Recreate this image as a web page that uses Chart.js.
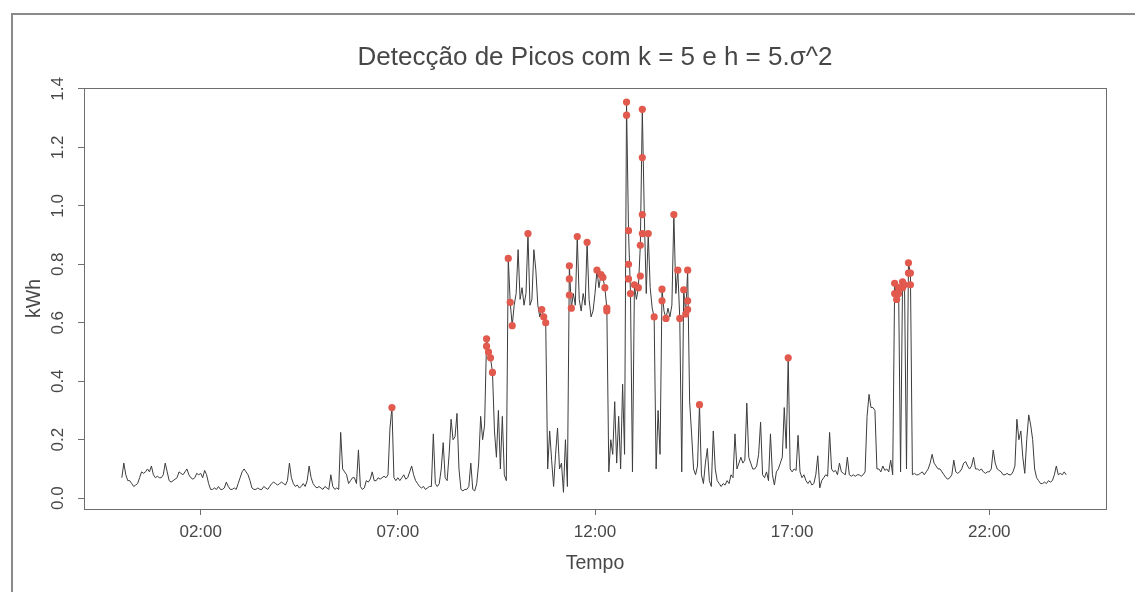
<!DOCTYPE html>
<html>
<head>
<meta charset="utf-8">
<script src="https://cdn.jsdelivr.net/npm/chart.js@4/dist/chart.umd.min.js"></script>
<style>
  html, body { margin: 0; padding: 0; background: #fff; }
  #wrap { position: relative; width: 1135px; height: 592px; overflow: hidden; }
  #frame { position: absolute; left: 11px; top: 13px; width: 1140px; height: 600px;
           border-left: 2px solid #8a8a8a; border-top: 2px solid #8a8a8a; }
  canvas { position: absolute; left: 0; top: 0; }
</style>
</head>
<body>
<div id="wrap">
  <div id="frame"></div>
  <canvas id="chart" width="1135" height="592"></canvas>
</div>
<script>
// one reading every 3 minutes, 00:00 -> 23:57
const stepMinutes = 3;
const kwh = [
  // 00h
  0.07, 0.12, 0.08, 0.06, 0.06, 0.05, 0.04, 0.045, 0.05, 0.07, 0.09, 0.085, 0.09, 0.10, 0.09, 0.11, 0.08, 0.07, 0.075, 0.07,
  // 01h
  0.07, 0.08, 0.12, 0.09, 0.06, 0.055, 0.06, 0.065, 0.07, 0.09, 0.085, 0.08, 0.09, 0.10, 0.08, 0.07, 0.065, 0.07, 0.085, 0.08,
  // 02h
  0.085, 0.07, 0.095, 0.08, 0.05, 0.03, 0.03, 0.035, 0.03, 0.04, 0.03, 0.03, 0.035, 0.055, 0.04, 0.03, 0.03, 0.035, 0.03, 0.05,
  // 03h
  0.07, 0.09, 0.10, 0.09, 0.08, 0.06, 0.035, 0.03, 0.03, 0.035, 0.03, 0.03, 0.04, 0.035, 0.03, 0.04, 0.05, 0.055, 0.05, 0.045,
  // 04h
  0.05, 0.055, 0.05, 0.045, 0.06, 0.12, 0.07, 0.05, 0.04, 0.045, 0.035, 0.04, 0.05, 0.04, 0.06, 0.11, 0.07, 0.05, 0.04, 0.035,
  // 05h
  0.04, 0.035, 0.03, 0.04, 0.035, 0.03, 0.08, 0.04, 0.03, 0.035, 0.03, 0.225, 0.10, 0.09, 0.08, 0.05, 0.06, 0.07, 0.07, 0.05,
  // 06h
  0.165, 0.04, 0.03, 0.035, 0.06, 0.055, 0.065, 0.09, 0.06, 0.06, 0.07, 0.065, 0.07, 0.075, 0.07, 0.08, 0.24, 0.31, 0.07, 0.06,
  // 07h
  0.07, 0.06, 0.07, 0.08, 0.065, 0.07, 0.09, 0.11, 0.08, 0.06, 0.05, 0.04, 0.035, 0.04, 0.03, 0.035, 0.04, 0.04, 0.22, 0.05,
  // 08h
  0.04, 0.05, 0.1, 0.19, 0.07, 0.06, 0.15, 0.27, 0.2, 0.21, 0.29, 0.1, 0.03, 0.025, 0.03, 0.03, 0.04, 0.12, 0.03, 0.025,
  // 09h
  0.05, 0.12, 0.28, 0.2, 0.25, 0.545, 0.5, 0.48, 0.43, 0.23, 0.14, 0.3, 0.1, 0.28, 0.08, 0.06, 0.82, 0.67, 0.59, 0.66,
  // 10h
  0.7, 0.85, 0.68, 0.72, 0.66, 0.7, 0.905, 0.66, 0.68, 0.85, 0.78, 0.66, 0.62, 0.645, 0.62, 0.6, 0.1, 0.23, 0.13, 0.04,
  // 11h
  0.15, 0.24, 0.1, 0.12, 0.02, 0.2, 0.04, 0.795, 0.65, 0.7, 0.66, 0.895, 0.68, 0.64, 0.7, 0.66, 0.875, 0.68, 0.62, 0.64,
  // 12h
  0.7, 0.78, 0.72, 0.765, 0.755, 0.72, 0.65, 0.09, 0.2, 0.15, 0.33, 0.12, 0.28, 0.1, 0.39, 0.15, 1.355, 0.915, 0.7, 0.09,
  // 13h
  0.73, 0.68, 0.72, 0.865, 1.33, 0.97, 0.7, 0.905, 0.72, 0.65, 0.62, 0.1, 0.3, 0.15, 0.715, 0.64, 0.615, 0.65, 0.62, 0.66,
  // 14h
  0.97, 0.7, 0.78, 0.615, 0.09, 0.713, 0.63, 0.78, 0.33, 0.22, 0.1, 0.08, 0.11, 0.32, 0.08, 0.05, 0.12, 0.17, 0.06, 0.04,
  // 15h
  0.23, 0.1, 0.06, 0.05, 0.04, 0.05, 0.045, 0.06, 0.05, 0.08, 0.07, 0.22, 0.1, 0.12, 0.14, 0.12, 0.13, 0.325, 0.14, 0.12,
  // 16h
  0.1, 0.1, 0.11, 0.15, 0.26, 0.08, 0.07, 0.09, 0.06, 0.22, 0.08, 0.045, 0.09, 0.1, 0.12, 0.14, 0.31, 0.17, 0.48, 0.1,
  // 17h
  0.09, 0.1, 0.095, 0.215, 0.09, 0.07, 0.08, 0.06, 0.05, 0.06, 0.045, 0.05, 0.08, 0.145, 0.035, 0.06, 0.07, 0.08, 0.075, 0.225,
  // 18h
  0.1, 0.09, 0.095, 0.08, 0.12, 0.09, 0.085, 0.08, 0.14, 0.08, 0.075, 0.08, 0.075, 0.08, 0.08, 0.075, 0.08, 0.09, 0.28, 0.355,
  // 19h
  0.31, 0.31, 0.3, 0.1, 0.1, 0.09, 0.11, 0.095, 0.1, 0.09, 0.13, 0.08, 0.735, 0.68, 0.72, 0.09, 0.74, 0.73, 0.1, 0.805,
  // 20h
  0.77, 0.08, 0.085, 0.08, 0.08, 0.085, 0.09, 0.08, 0.09, 0.1, 0.12, 0.15, 0.12, 0.11, 0.1, 0.1, 0.09, 0.08, 0.07, 0.065,
  // 21h
  0.07, 0.08, 0.13, 0.09, 0.085, 0.09, 0.1, 0.12, 0.125, 0.11, 0.1, 0.11, 0.14, 0.1, 0.1, 0.095, 0.1, 0.09, 0.085, 0.09,
  // 22h
  0.09, 0.1, 0.165, 0.12, 0.1, 0.095, 0.09, 0.08, 0.08, 0.085, 0.08, 0.08, 0.09, 0.11, 0.27, 0.2, 0.23, 0.14, 0.085, 0.2,
  // 23h
  0.285, 0.25, 0.2, 0.1, 0.07, 0.06, 0.05, 0.05, 0.055, 0.05, 0.06, 0.055, 0.06, 0.08, 0.11, 0.08, 0.085, 0.08, 0.09, 0.08
];

// detected peaks (minute of day, kWh)
const peakMinutes = [
  411,
  555, 555, 558, 561, 564,
  588, 591, 594,
  618,
  639, 642, 645,
  681, 681, 681, 684,
  693, 708,
  723, 729, 732, 735, 738, 738,
  768, 768, 771, 771, 771, 774,
  780, 786,
  789, 789, 792, 792, 792, 792,
  801, 810,
  822, 822, 828,
  840, 846, 849, 855,
  858, 861, 861, 861,
  879,
  1014,
  1176, 1176, 1179, 1182, 1182, 1188, 1188, 1191, 1197, 1197, 1200, 1200
];
const peakKwh = [
  0.31,
  0.545, 0.52, 0.50, 0.48, 0.43,
  0.82, 0.67, 0.59,
  0.905,
  0.645, 0.62, 0.60,
  0.795, 0.75, 0.695, 0.65,
  0.895, 0.875,
  0.78, 0.765, 0.755, 0.72, 0.65, 0.64,
  1.355, 1.31, 0.915, 0.8, 0.75, 0.70,
  0.73, 0.72,
  0.865, 0.76, 1.33, 1.165, 0.97, 0.905,
  0.905, 0.62,
  0.715, 0.675, 0.615,
  0.97, 0.78, 0.615, 0.713,
  0.63, 0.78, 0.675, 0.645,
  0.32,
  0.48,
  0.735, 0.70, 0.68, 0.72, 0.70, 0.74, 0.72, 0.73, 0.805, 0.77, 0.77, 0.73
];

const xTickMinutes = [120, 420, 720, 1020, 1320];
const xTickLabels = ['02:00', '07:00', '12:00', '17:00', '22:00'];
const yTicks = [0, 0.2, 0.4, 0.6, 0.8, 1.0, 1.2, 1.4];

const chartTitle = 'Detecção de Picos com k = 5 e h = 5.σ^2';
const FONT = "'Liberation Sans', Arial, Helvetica, sans-serif";
const TEXT = '#474747';
const AXIS = '#6e6e6e';

const seriesPoints = kwh.map((v, i) => ({ x: i * stepMinutes, y: v }));
const peakPoints = peakMinutes.map((m, i) => ({ x: m, y: peakKwh[i] }));

// R style box round the plot region plus the centred main title
const plotFrame = {
  id: 'plotFrame',
  afterDraw(chart) {
    const { ctx, chartArea: a } = chart;
    ctx.save();
    ctx.strokeStyle = AXIS;
    ctx.lineWidth = 1;
    ctx.strokeRect(Math.round(a.left) + 0.5, Math.round(a.top) + 0.5,
                   Math.round(a.right - a.left), Math.round(a.bottom - a.top));
    ctx.fillStyle = TEXT;
    ctx.font = '26px ' + FONT;
    ctx.textAlign = 'center';
    ctx.textBaseline = 'middle';
    ctx.fillText(chartTitle, (a.left + a.right) / 2, 58);
    ctx.restore();
  }
};

new Chart(document.getElementById('chart'), {
  type: 'line',
  data: {
    datasets: [
      {
        label: 'picos',
        type: 'scatter',
        data: peakPoints,
        pointRadius: 3.6,
        pointBackgroundColor: '#e2594d',
        pointBorderColor: '#e2594d',
        pointBorderWidth: 0,
        order: 0
      },
      {
        label: 'consumo',
        data: seriesPoints,
        borderColor: '#3c3c3c',
        borderWidth: 1,
        pointRadius: 0,
        tension: 0,
        fill: false,
        order: 1
      }
    ]
  },
  options: {
    responsive: false,
    animation: false,
    events: [],
    layout: { padding: { left: 0, right: 29, top: 88, bottom: 0 } },
    plugins: {
      legend: { display: false },
      title: { display: false },
      tooltip: { enabled: false }
    },
    scales: {
      x: {
        type: 'linear',
        min: -57.6,
        max: 1497.6,
        afterBuildTicks: s => { s.ticks = xTickMinutes.map(v => ({ value: v })); },
        afterFit: s => { s.height = 83; },
        border: { display: false },
        grid: { drawOnChartArea: false, drawTicks: true, tickLength: 6, color: AXIS },
        ticks: {
          autoSkip: false, maxRotation: 0, padding: 7,
          color: TEXT, font: { family: FONT, size: 17 },
          callback: (v, i) => xTickLabels[i]
        },
        title: {
          display: true, text: 'Tempo', color: TEXT,
          font: { family: FONT, size: 19.5 }, padding: { top: 0, bottom: 17 }
        }
      },
      y: {
        min: -0.037,
        max: 1.403,
        afterBuildTicks: s => { s.ticks = yTicks.map(v => ({ value: v })); },
        afterFit: s => { s.width = 84; },
        border: { display: false },
        grid: { drawOnChartArea: false, drawTicks: true, tickLength: 6, color: AXIS },
        ticks: {
          minRotation: 90, maxRotation: 90, crossAlign: 'center', padding: 8,
          color: TEXT, font: { family: FONT, size: 17 },
          callback: v => v.toFixed(1)
        },
        title: {
          display: true, text: 'kWh', color: TEXT,
          font: { family: FONT, size: 19.5 }, padding: { top: 23, bottom: 0 }
        }
      }
    }
  },
  plugins: [plotFrame]
});
</script>
</body>
</html>
